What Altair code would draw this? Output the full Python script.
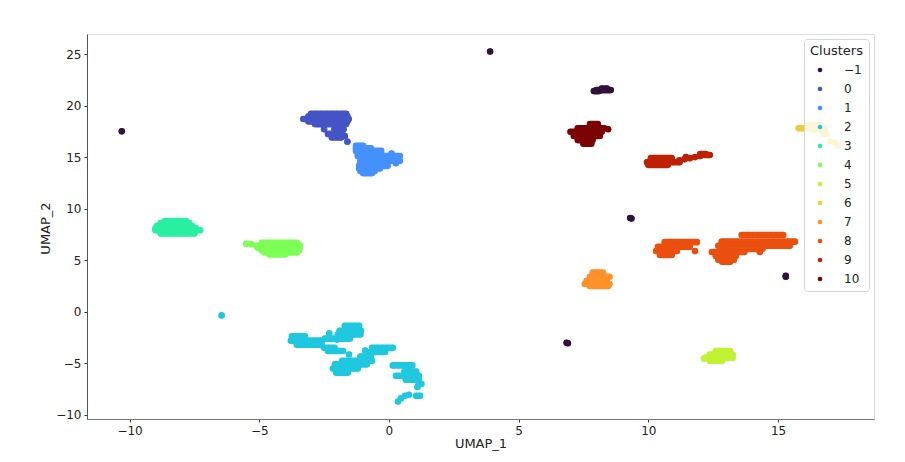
import altair as alt
import pandas as pd

CLUSTERS = ["\u22121", "0", "1", "2", "3", "4", "5", "6", "7", "8", "9", "10"]
COLORS = ["#30123b", "#4454c4", "#4490fe", "#1fc8de", "#29efa2", "#7dff56",
          "#c1f334", "#f1ca3a", "#fe922a", "#ea4f0d", "#be2102", "#7a0403"]
X_TICKS = [-10, -5, 0, 5, 10, 15]
Y_TICKS = [-10, -5, 0, 5, 10, 15, 20, 25]

# each entry: (UMAP_2 value, [UMAP_1 values])
c_m1 = [(17.5, [-10.3]), (25.25, [3.9]),
        (21.5, [8.0, 8.2, 8.4, 8.55]), (21.4, [7.9, 8.1]), (21.65, [8.2, 8.4]),
        (-3.0, [6.85]), (-3.05, [6.9]), (9.05, [9.35]), (9.1, [9.3]),
        (3.4, [15.3]), (3.5, [15.3])]
c0 = [(19.2, [-3.0, -2.8, -2.6, -2.4, -2.2, -2.0, -1.8, -1.65]),
      (18.95, [-3.1, -2.8, -2.5, -2.2, -1.9, -1.6]),
      (18.7, [-3.3, -3.1, -2.9, -2.7, -2.5, -2.3, -2.1, -1.9, -1.7, -1.55]),
      (18.45, [-3.1, -2.8, -2.5, -2.2, -1.9, -1.6]),
      (18.2, [-2.85, -2.65, -2.45, -2.25, -2.05, -1.85, -1.65]),
      (17.7, [-2.5, -2.1, -1.9, -1.75]),
      (17.25, [-2.35, -2.15, -1.95, -1.8]),
      (16.9, [-2.2, -2.0, -1.85]),
      (17.05, [-1.7]), (16.5, [-1.6])]
c1 = [(16.1, [-1.27, -1.1, -1.0]),
      (15.85, [-1.27, -1.0, -0.7]),
      (15.6, [-1.27, -1.07, -0.87, -0.67, -0.47, -0.3]),
      (15.35, [-1.2, -0.9, -0.6, -0.3, 0.1]),
      (15.1, [-1.2, -1.0, -0.8, -0.6, -0.4, -0.2, 0.0, 0.2, 0.42]),
      (14.65, [-1.1, -0.9, -0.7, -0.5, -0.3, -0.1, 0.1, 0.3, 0.42]),
      (14.4, [-1.1, -0.8, -0.5, -0.2, 0.27]),
      (14.15, [-1.15, -0.95, -0.75, -0.55, -0.35, -0.15, -0.05]),
      (13.9, [-1.15, -0.85, -0.6, -0.35]),
      (13.65, [-1.1, -0.9, -0.7, -0.55]),
      (13.45, [-1.0, -0.8, -0.65])]
c2 = [(-0.35, [-6.45]),
      (-1.36, [-1.7, -1.5, -1.3, -1.15]),
      (-1.84, [-1.9, -1.7, -1.5, -1.3, -1.08]),
      (-2.2, [-1.97, -1.77, -1.57, -1.37, -1.1]),
      (-2.6, [-1.5, -2.47]), (-2.7, [-2.0]), (-2.1, [-2.3]),
      (-2.38, [-3.74, -3.54, -3.34, -3.24]),
      (-2.8, [-3.78, -3.58, -3.38, -3.18, -2.98, -2.78, -2.58]),
      (-3.2, [-3.55, -3.35, -3.15, -2.95, -2.75, -2.6]),
      (-3.5, [-2.5, -2.3, -2.1]),
      (-3.8, [-2.35, -2.15, -1.95, -1.77]),
      (-4.15, [-1.54]),
      (-5.9, [-2.04, -1.84, -1.58]),
      (-5.5, [-2.16, -1.96, -1.76, -1.56, -1.36, -1.2]),
      (-5.1, [-2.08, -1.88, -1.68, -1.48, -1.28, -1.08, -0.85]),
      (-4.75, [-1.8, -1.6, -1.4, -1.2, -1.0, -0.8, -0.65]),
      (-4.35, [-1.1, -0.9, -0.7]),
      (-3.9, [-0.73, -0.53, -0.33, -0.15]),
      (-3.5, [-0.65, -0.45, -0.25, -0.05, 0.15]),
      (-3.75, [-0.92]),
      (-5.2, [0.15, 0.35, 0.55, 0.75, 0.9]),
      (-5.8, [0.6, 0.8, 1.05]),
      (-6.2, [0.27, 0.6, 0.8, 1.0, 1.15]),
      (-6.6, [0.65, 0.85, 1.05, 1.15]),
      (-7.0, [1.15, 1.25]), (-7.3, [1.1]),
      (-8.7, [0.35]), (-8.4, [0.46]), (-8.15, [0.62, 1.05, 1.2]), (-8.05, [0.77])]
c3 = [(8.8, [-8.63, -8.43, -8.23, -8.03, -7.83]),
      (8.6, [-8.8, -8.5, -8.2, -7.95, -7.7]),
      (8.35, [-8.94, -8.74, -8.54, -8.34, -8.14, -7.94, -7.74, -7.6]),
      (8.1, [-9.0, -8.7, -8.4, -8.1, -7.8, -7.45]),
      (7.9, [-9.0, -8.8, -8.6, -8.4, -8.2, -8.0, -7.8, -7.6, -7.4, -7.28]),
      (7.6, [-8.8, -8.6, -8.4, -8.2, -8.0, -7.8, -7.5])]
c4 = [(6.6, [-5.5]), (6.55, [-5.3]), (6.4, [-5.1]),
      (6.7, [-4.9, -4.7, -4.5, -4.3, -4.1, -3.9, -3.7, -3.55]),
      (6.45, [-4.95, -4.65, -4.35, -4.05, -3.75, -3.45]),
      (6.2, [-5.05, -4.85, -4.65, -4.45, -4.25, -4.05, -3.85, -3.65, -3.43]),
      (5.95, [-4.9, -4.6, -4.3, -4.0, -3.7, -3.47]),
      (5.75, [-4.78, -4.58, -4.38, -4.18, -3.98, -3.78, -3.55]),
      (5.55, [-4.6, -4.4, -4.2, -4.0])]
c5 = [(-3.8, [12.6, 12.8, 13.0, 13.15]),
      (-4.15, [12.37, 12.6, 12.8, 13.0, 13.25]),
      (-4.45, [12.2, 12.4, 12.6, 12.8, 13.0, 13.25]),
      (-4.55, [12.15]),
      (-4.75, [12.37, 12.6, 12.85])]
c6 = [(17.8, [15.8, 16.0, 16.2, 16.4, 16.6, 16.8]),
      (18.1, [16.15, 16.35, 16.6]),
      (17.65, [16.4, 16.6, 16.8]),
      (17.25, [16.75, 16.85]),
      (16.55, [17.0]), (16.4, [17.2]), (16.1, [17.3])]
c7 = [(3.8, [7.86, 8.05, 8.25]),
      (3.4, [7.75, 7.95, 8.15, 8.3, 8.5]),
      (3.0, [7.63, 7.85, 8.05, 8.25, 8.4]),
      (2.7, [7.55, 7.75, 7.95, 8.15, 8.35, 8.5]),
      (2.5, [7.75, 7.95, 8.15, 8.45])]
c8 = [(6.75, [10.63, 10.83, 11.03, 11.23, 11.43, 11.63, 11.87]),
      (6.3, [10.37, 10.57, 10.77, 10.97, 11.17, 11.37, 11.6]),
      (5.9, [10.3, 10.5, 10.7, 10.9, 11.1, 11.8]),
      (5.5, [10.45, 10.65, 10.9]),
      (7.45, [13.6, 13.8, 14.0, 14.2, 14.4, 14.6, 14.8, 15.0, 15.2]),
      (6.8, [12.83, 13.03, 13.23, 13.43, 13.63, 13.83, 14.03, 14.23, 14.43, 14.63, 14.83, 15.03, 15.23, 15.43, 15.65]),
      (6.4, [12.7, 12.9, 13.1, 13.3, 13.5, 13.7, 13.9, 14.1, 14.3, 14.5, 14.7, 14.9, 15.1, 15.3, 15.45]),
      (6.1, [12.9, 13.1, 13.3, 13.5, 13.7, 13.9, 14.1, 14.4]),
      (5.8, [12.45, 12.65, 12.85, 13.05, 13.25, 13.45, 13.7, 14.3]),
      (5.4, [12.6, 12.8, 13.0, 13.2, 13.37]),
      (5.05, [12.7, 12.9, 13.1, 13.3]),
      (4.85, [12.85, 13.15])]
c9 = [(14.9, [10.1, 10.3, 10.5, 10.7, 10.9]),
      (14.5, [9.95, 10.15, 10.35, 10.55, 10.75, 10.95, 11.2]),
      (14.25, [10.0, 10.25, 10.5, 10.75]),
      (14.7, [11.2]), (14.8, [11.4]), (14.9, [11.6]), (15.0, [11.45, 11.8]),
      (15.1, [12.0]), (15.2, [12.17, 12.37]), (15.3, [12.0, 12.2])]
c10 = [(18.2, [7.75, 7.9, 8.05]),
       (17.8, [7.28, 7.48, 7.68, 7.88, 8.08, 8.3]),
       (17.7, [8.45]),
       (17.45, [7.0, 7.2, 7.4, 7.6, 7.8, 8.0, 8.2]),
       (17.05, [7.13, 7.33, 7.53, 7.73, 7.93, 8.13]),
       (16.65, [7.28, 7.48, 7.68, 7.85]),
       (16.3, [7.5, 7.65, 7.8])]

groups = [c_m1, c0, c1, c2, c3, c4, c5, c6, c7, c8, c9, c10]
records = []
spans = []
for name, rows in zip(CLUSTERS, groups):
    for yv, xs in rows:
        start = xs[0]
        prev = xs[0]
        for xv in xs:
            records.append({"x": xv, "y": yv, "c": name})
            if xv - prev > 0.35:
                spans.append({"x": start, "x2": prev, "y": yv, "c": name})
                start = xv
            prev = xv
        spans.append({"x": start, "x2": prev, "y": yv, "c": name})
df = pd.DataFrame(records)
df_spans = pd.DataFrame(spans)

FONT = "DejaVu Sans"
x_enc = alt.X("x:Q", title="UMAP_1",
              scale=alt.Scale(domain=[-11.64, 18.7], nice=False, zero=False),
              axis=alt.Axis(values=X_TICKS, grid=False, tickSize=3, labelFontSize=12,
                            titleFontSize=13, titleFontWeight="normal", labelFont=FONT,
                            titleFont=FONT, labelColor="#222", titleColor="#222",
                            tickColor="#333", domainColor="#777", labelPadding=3,
                            titlePadding=1, format="d"))
y_enc = alt.Y("y:Q", title="UMAP_2",
              scale=alt.Scale(domain=[-10.4, 26.94], nice=False, zero=False),
              axis=alt.Axis(values=Y_TICKS, grid=False, tickSize=3, labelFontSize=12,
                            titleFontSize=13, titleFontWeight="normal", labelFont=FONT,
                            titleFont=FONT, labelColor="#222", titleColor="#222",
                            tickColor="#333", domainColor="#555", labelPadding=3,
                            titleX=-35, titleY=194, format="d"))
color_scale = alt.Scale(domain=CLUSTERS, range=COLORS)

points = (
    alt.Chart(df)
    .mark_circle(size=36, opacity=1)
    .encode(
        x=x_enc,
        y=y_enc,
        color=alt.Color("c:N", scale=color_scale, sort=CLUSTERS,
                        legend=alt.Legend(title="Clusters", orient="none", legendX=717, legendY=5,
                                          fillColor="rgba(255,255,255,0.8)", strokeColor="#d5d5d5",
                                          cornerRadius=3, padding=6, titleFontSize=13,
                                          titleFontWeight="normal", titleFont=FONT,
                                          titleColor="#222", labelFont=FONT, labelFontSize=12,
                                          labelColor="#222", symbolType="circle", symbolSize=22,
                                          symbolOffset=4, labelOffset=18, rowPadding=7,
                                          titlePadding=6, labelOverlap=False, symbolOpacity=1,
                                          symbolStrokeWidth=0)),
    )
)
fill = (
    alt.Chart(df_spans)
    .mark_rule(strokeWidth=6.6, strokeCap="round", opacity=1)
    .encode(
        x=alt.X("x:Q", scale=alt.Scale(domain=[-11.64, 18.7], nice=False, zero=False)),
        x2="x2:Q",
        y=alt.Y("y:Q", scale=alt.Scale(domain=[-10.4, 26.94], nice=False, zero=False)),
        color=alt.Color("c:N", scale=color_scale, sort=CLUSTERS, legend=None),
    )
)
chart = (
    alt.layer(points, fill)
    .properties(
        width=787, height=385,
        autosize=alt.AutoSizeParams(type="none"),
        padding={"left": 79, "top": 26, "right": 20, "bottom": 35},
    )
    .configure_view(stroke="#555", strokeWidth=1)
    .configure(background="white")
)
chart.save("out.html", embed_options={"renderer": "svg", "actions": False})
